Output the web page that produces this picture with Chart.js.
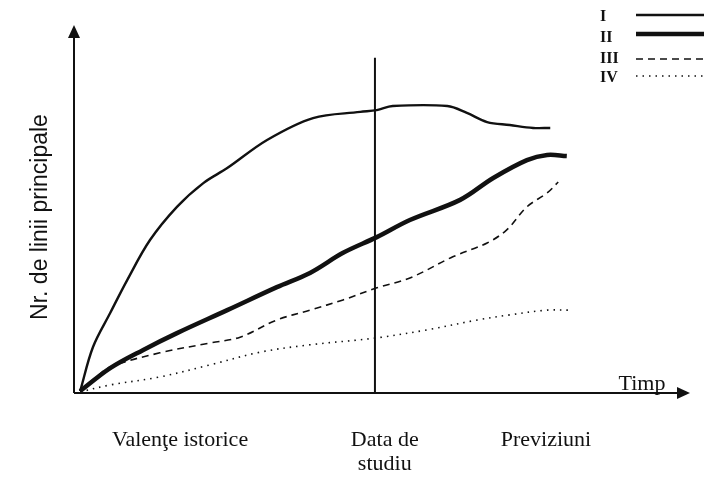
<!DOCTYPE html>
<html>
<head>
<meta charset="utf-8">
<script src="https://cdn.jsdelivr.net/npm/chart.js@4"></script>
<style>
  html, body { margin: 0; padding: 0; background: #fff; }
  #wrap { width: 704px; height: 480px; }
</style>
</head>
<body>
<div id="wrap"><canvas id="chart" width="704" height="480"></canvas></div>
<script>
"use strict";

// time axis (0 = origin, 100 = arrow tip) and values for each scenario
const timeI   = [0.5, 2.6, 5.4, 8.2, 11.9, 16.3, 20.6, 24.5, 31.0, 38.5, 46.2, 48.9, 51.5, 60.4, 63.6, 66.9, 70.6, 74.4, 77.2];
const valuesI = [0.5, 12.6, 21.9, 31.0, 41.9, 51.0, 57.5, 61.6, 69.3, 75.3, 77.0, 77.5, 78.6, 78.6, 76.7, 74.2, 73.4, 72.6, 72.6];

const timeII   = [0.5, 5.4, 10.8, 16.3, 24.5, 32.6, 38.0, 43.4, 48.9, 54.3, 62.5, 67.9, 73.4, 76.7, 79.9];
const valuesII = [0.5, 6.8, 11.8, 16.4, 22.7, 29.0, 32.9, 38.4, 42.7, 47.4, 52.9, 58.9, 63.8, 65.2, 64.9];

const timeIII   = [0.5, 2.6, 5.4, 13.5, 21.7, 26.6, 32.6, 38.0, 43.4, 48.9, 54.3, 61.3, 66.9, 70.1, 73.4, 76.7, 78.5];
const valuesIII = [0.5, 3.6, 7.1, 11.0, 13.7, 15.3, 20.0, 22.7, 25.5, 28.8, 31.5, 37.3, 41.1, 44.7, 51.0, 54.8, 57.8];

const timeIV   = [0.5, 5.4, 13.5, 21.7, 29.9, 38.0, 48.9, 57.1, 65.3, 70.6, 76.7, 80.4];
const valuesIV = [0.3, 2.2, 4.4, 7.7, 11.2, 13.2, 15.1, 17.3, 20.0, 21.4, 22.7, 22.7];

// reference date ("Data de studiu")
const studyTime = 48.6;
const studyTop = 91.8;

const seriesNames = ["I", "II", "III", "IV"];
const periodLabels = [["Valenţe istorice"], ["Data de", "studiu"], ["Previziuni"]];
const periodTimes = [16.8, 50.2, 76.5];
const xAxisTitle = "Timp";
const yAxisTitle = "Nr. de linii principale";

function toPoints(xs, ys) {
    let pts = [];
    for (let i = 0; i < xs.length; i++) {
        pts.push({ x: xs[i], y: ys[i] });
    }
    return pts;
}

const ink = "#111";

const lineStyles = [
    { borderWidth: 2.4, borderDash: [] },
    { borderWidth: 4.5, borderDash: [] },
    { borderWidth: 1.6, borderDash: [7, 5] },
    { borderWidth: 1.6, borderDash: [1.5, 5] }
];

//axes with arrows, labels and the little legend in the corner
const decorPlugin = {
    id: "decor",
    afterDraw(chart) {
        const ctx = chart.ctx;
        const x = chart.scales.x;
        const ox = 74, oy = 393;

        ctx.save();
        ctx.strokeStyle = ink;
        ctx.fillStyle = ink;
        ctx.lineWidth = 2;
        ctx.setLineDash([]);

        // y axis
        ctx.beginPath();
        ctx.moveTo(ox, oy);
        ctx.lineTo(ox, 34);
        ctx.stroke();
        ctx.beginPath();
        ctx.moveTo(ox, 25);
        ctx.lineTo(ox - 6, 38);
        ctx.lineTo(ox + 6, 38);
        ctx.closePath();
        ctx.fill();

        // x axis
        ctx.beginPath();
        ctx.moveTo(ox, oy);
        ctx.lineTo(680, oy);
        ctx.stroke();
        ctx.beginPath();
        ctx.moveTo(690, oy);
        ctx.lineTo(677, oy - 6);
        ctx.lineTo(677, oy + 6);
        ctx.closePath();
        ctx.fill();

        // axis titles
        ctx.font = "22px 'Liberation Serif'";
        ctx.textAlign = "center";
        ctx.textBaseline = "alphabetic";
        ctx.fillText(xAxisTitle, 642, 390);

        ctx.save();
        ctx.translate(41, 217);
        ctx.rotate(-Math.PI / 2);
        ctx.font = "23px 'Liberation Sans'";
        ctx.textBaseline = "middle";
        ctx.fillText(yAxisTitle, 0, 0);
        ctx.restore();

        // period labels under the time axis
        ctx.font = "22px 'Liberation Serif'";
        ctx.textBaseline = "middle";
        for (let i = 0; i < periodLabels.length; i++) {
            const px = x.getPixelForValue(periodTimes[i]);
            for (let j = 0; j < periodLabels[i].length; j++) {
                ctx.fillText(periodLabels[i][j], px, 440 + j * 24);
            }
        }

        // legend
        const textY = [17, 38, 59, 78];
        const lineY = [15, 34, 59, 76];
        ctx.font = "bold 16px 'Liberation Serif'";
        ctx.textAlign = "left";
        for (let i = 0; i < seriesNames.length; i++) {
            ctx.fillText(seriesNames[i], 600, textY[i]);
            ctx.beginPath();
            ctx.lineWidth = lineStyles[i].borderWidth;
            ctx.setLineDash(lineStyles[i].borderDash);
            ctx.moveTo(636, lineY[i]);
            ctx.lineTo(704, lineY[i]);
            ctx.stroke();
        }
        ctx.restore();
    }
};

const xs = [timeI, timeII, timeIII, timeIV];
const ys = [valuesI, valuesII, valuesIII, valuesIV];

let datasets = [];
for (let i = 0; i < seriesNames.length; i++) {
    datasets.push({
        label: seriesNames[i],
        data: toPoints(xs[i], ys[i]),
        borderColor: ink,
        borderWidth: lineStyles[i].borderWidth,
        borderDash: lineStyles[i].borderDash,
        pointRadius: 0,
        tension: 0.35,
        fill: false
    });
}
datasets.push({
    label: "Data de studiu",
    data: [{ x: studyTime, y: 0 }, { x: studyTime, y: studyTop }],
    borderColor: ink,
    borderWidth: 2,
    pointRadius: 0,
    fill: false
});

const ctx = document.getElementById("chart").getContext("2d");
const chart = new Chart(ctx, {
    type: "line",
    data: { datasets: datasets },
    options: {
        responsive: false,
        animation: false,
        events: [],
        layout: {
            padding: { left: 74, right: 14, top: 25, bottom: 87 }
        },
        plugins: {
            legend: { display: false },
            tooltip: { enabled: false }
        },
        scales: {
            x: { type: "linear", min: -0.5, max: 100, display: false },
            y: { type: "linear", min: 0, max: 100.8, display: false }
        }
    },
    plugins: [decorPlugin]
});
</script>
</body>
</html>
